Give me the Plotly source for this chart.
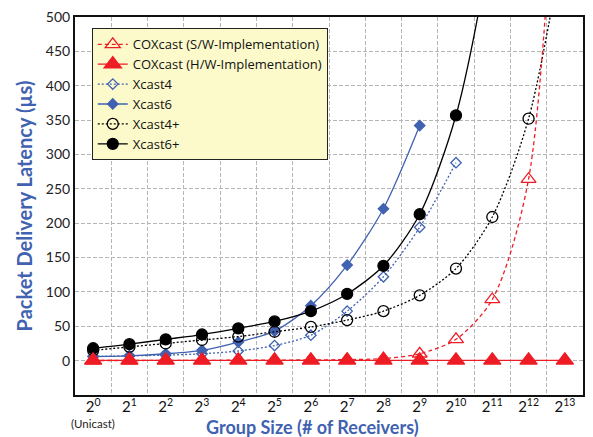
import plotly.graph_objects as go

exponents = list(range(14))
tick_labels = [f"2<sup>{n}</sup>" for n in exponents]

sw_impl = [0.2, 0.2, 0.3, 0.4, 0.6, 0.8, 1.0, 1.5, 3, 10, 31, 89, 264, 1000]
hw_impl = [0.5] * 14
xcast4 = [6, 7, 8, 10, 14, 22, 37, 72, 122, 194, 288]
xcast6 = [6, 7, 10, 15, 27, 43, 80, 139, 221, 342]
xcast4p = [15, 20, 25, 30, 35, 42, 49, 59, 72, 95, 134, 209, 352, 620]
xcast6p = [18, 24, 31, 38, 47, 57, 72, 97, 138, 213, 357, 620, 1050]

BLUE = "#4062B0"
RED = "#EE1C25"
FONT = "Lato"

fig = go.Figure()

def add(name, y, color, symbol, size, dash, rank):
    fig.add_trace(go.Scatter(
        x=exponents[:len(y)], y=y, name=name, mode="lines+markers",
        line=dict(color=color, width=1.3, dash=dash, shape="spline", smoothing=0.8),
        marker=dict(symbol=symbol, size=size, color=color,
                    line=dict(color=color, width=1.3)),
        legendrank=rank,
    ))

add("Xcast4", xcast4, BLUE, "diamond-open", 8, "2px,2px", 3)
add("Xcast6", xcast6, BLUE, "diamond", 8, "solid", 4)
add("Xcast4+", xcast4p, "black", "circle-open", 11, "2px,2px", 5)
add("Xcast6+", xcast6p, "black", "circle", 11, "solid", 6)
add("COXcast (S/W-Implementation)", sw_impl, RED, "triangle-up-open", 13, "4px,3px", 1)
add("COXcast (H/W-Implementation)", hw_impl, RED, "triangle-up", 15, "solid", 2)

fig.add_annotation(x=0, y=0, xref="x", yref="paper", yshift=-28, text="(Unicast)",
                   showarrow=False, yanchor="middle",
                   font=dict(family=FONT, size=11.5, color="#222"))
fig.add_annotation(x=(313 - 75) / 510, y=(395 - 427) / 382, xref="paper", yref="paper",
                   xanchor="center", yanchor="middle",
                   text="<b>Group Size (# of Receivers)</b>",
                   showarrow=False, font=dict(family=FONT, size=18, color=BLUE))

fig.update_layout(
    width=593, height=437,
    margin=dict(l=75, r=8, t=13, b=42),
    paper_bgcolor="white", plot_bgcolor="white",
    font=dict(family=FONT, size=14, color="#222"),
    showlegend=True,
    legend=dict(x=0.033, y=0.97, xanchor="left", yanchor="top",
                bgcolor="#FCFACB", bordercolor="#222", borderwidth=1,
                font=dict(family="Open Sans", size=13, color="#111"),
                tracegroupgap=0, itemwidth=30),
    xaxis=dict(range=[-0.5, 13.5], tickmode="array", tickvals=exponents, ticktext=tick_labels,
               showgrid=False, zeroline=False,
               showline=True, mirror=True, linecolor="#111", linewidth=2,
               ticklabelstandoff=-3,
               tickfont=dict(family=FONT, size=15, color="#111"),
               minor=dict(tickmode="linear", tick0=0.5, dtick=1, showgrid=True,
                          gridcolor="#b5b5b5", griddash="4px,2px", gridwidth=1)),
    yaxis=dict(range=[-50, 500], tickmode="array", tickvals=list(range(0, 501, 50)),
               showgrid=True, gridcolor="#b5b5b5", griddash="4px,2px", gridwidth=1,
               zeroline=False, showline=True, mirror=True, linecolor="#111", linewidth=2,
               tickfont=dict(family=FONT, size=14, color="#222"),
               title=dict(text="<b>Packet Delivery Latency (µs)</b>",
                          font=dict(family=FONT, size=20, color=BLUE), standoff=8)),
)

fig.write_html("out.html")
